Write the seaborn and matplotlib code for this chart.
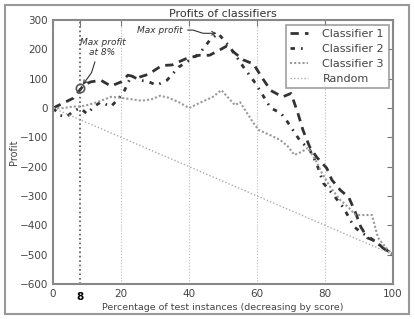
import matplotlib
matplotlib.use("Agg")
import matplotlib.pyplot as plt
import seaborn as sns
from matplotlib.patches import Rectangle

# values
c1_x = [0, 3, 6, 9, 11, 14, 17, 20, 22, 25, 28, 30, 32, 35, 39, 43, 46, 49, 51, 53,
        56, 59, 61, 64, 67.5, 70, 72, 73.5, 75.5, 77.5, 80.5, 82, 84.5, 87, 89, 90.5,
        92.5, 95, 97, 100]
c1_y = [0, 17, 34, 78, 89, 95, 75, 89, 112, 104, 115, 130, 145, 147, 168, 180, 180, 198, 211, 192,
        164, 150, 112, 60, 38, 50, -17, -75, -133, -167, -205, -245, -280, -305, -358, -405,
        -443, -455, -477, -500]

c2_x = [0, 2, 4, 6, 8, 10, 12, 14, 17, 19.5, 21, 22, 23, 25.5, 28, 30.5, 33.5, 37, 41, 43,
        46, 48.5, 52, 56, 59.5, 62, 64, 67, 69, 72.5, 75.5, 77.5, 78.5, 79.5, 82.5, 85.5,
        88.5, 91, 93, 96, 100]
c2_y = [0, -25, -30, -10, 0, -20, 5, 20, 5, 35, 60, 85, 110, 95, 90, 78, 95, 140, 170, 185,
        230, 255, 208, 140, 85, 38, 0, -17, -48, -109, -143, -188, -222, -256, -297, -341,
        -405, -427, -440, -467, -500]

c3_x = [0, 3, 6, 8, 10, 13, 17, 20, 23, 26, 29, 31.5, 34, 37, 40, 43, 47, 49.5, 53.5, 55,
        56.5, 59, 60.5, 63.8, 66.8, 69, 71, 73, 75, 77.5, 79, 81.5, 84.5, 87, 89, 91, 93.8,
        95.6, 98, 100]
c3_y = [0, 0, 5, 5, 10, 20, 38, 35, 30, 25, 30, 42, 35, 20, 0, 17, 38, 61, 10, 20,
        -7, -52, -75, -92, -109, -130, -160, -150, -136, -184, -220, -269, -314, -340, -365, -365, -365,
        -443, -477, -500]

rand_x = [0, 100]
rand_y = [0, -500]

max8_x, max8_y = 8, 68
maxall_x, maxall_y = 48.5, 255

sns.set_style("white")
plt.rcParams["font.family"] = ["DejaVu Sans"]
plt.rcParams["xtick.direction"] = "in"
plt.rcParams["ytick.direction"] = "in"

fig = plt.figure(figsize=(4.15, 3.19), dpi=100)
ax = fig.add_axes([0.128, 0.110, 0.819, 0.827])

dark = "#333333"
sns.lineplot(x=c1_x, y=c1_y, ax=ax, color=dark, lw=2.0, label="Classifier 1",
             linestyle=(0, (3, 2.2)))
sns.lineplot(x=c2_x, y=c2_y, ax=ax, color=dark, lw=2.0, label="Classifier 2",
             linestyle=(0, (1.6, 2.2, 0.6, 2.2)))
sns.lineplot(x=c3_x, y=c3_y, ax=ax, color="#999999", lw=1.5, label="Classifier 3",
             linestyle=(0, (1, 1)))
sns.lineplot(x=rand_x, y=rand_y, ax=ax, color="#aaaaaa", lw=1.0, label="Random",
             linestyle=(0, (1, 1.5)))

for xv in [20, 40, 60, 80]:
    ax.axvline(xv, color="#bbbbbb", lw=0.8, ls=":", zorder=0)
ax.axvline(8, color="#555555", lw=1.2, ls=":", zorder=0)

ax.plot([max8_x], [max8_y], marker="o", ms=6, mfc="none", mec="#555555", mew=1.2)

ax.annotate("Max profit\nat 8%", xy=(max8_x, max8_y), xytext=(14.5, 206),
            ha="center", va="center", fontsize=6.5, style="italic", color=dark,
            arrowprops=dict(arrowstyle="->", color=dark, lw=0.8, relpos=(0.4, 0),
                            shrinkA=1, shrinkB=3,
                            connectionstyle="arc,angleA=-124,armA=5,angleB=54,armB=19,rad=0"))
ax.annotate("Max profit", xy=(maxall_x, maxall_y), xytext=(38.2, 266),
            ha="right", va="center", fontsize=6.5, style="italic", color=dark,
            arrowprops=dict(arrowstyle="->", color=dark, lw=0.8, relpos=(1, 0.5),
                            shrinkA=1, shrinkB=1,
                            connectionstyle="arc,angleA=0,armA=10,angleB=180,armB=15,rad=0"))

ax.set_xlim(0, 100)
ax.set_ylim(-600, 300)
ax.set_xticks([0, 8, 20, 40, 60, 80, 100])
ax.set_yticks(range(-600, 301, 100))
ax.tick_params(axis="both", which="both", length=4, width=0.8, color="#777777",
               labelsize=7.5, labelcolor="#444444", top=True, right=True)
for lab in ax.get_xticklabels():
    if lab.get_text() == "8":
        lab.set_fontweight("bold")
        lab.set_color("black")
        lab.set_y(-0.012)

for sp in ax.spines.values():
    sp.set_color("#888888")
    sp.set_linewidth(1.5)

ax.set_title("Profits of classifiers", fontsize=8, color=dark, pad=2)
ax.set_xlabel("Percentage of test instances (decreasing by score)", fontsize=6.8,
              color="#444444")
ax.set_ylabel("Profit", fontsize=7, color="#444444")
ax.xaxis.set_label_coords(0.5, -0.072)
ax.yaxis.set_label_coords(-0.1, 0.5)

leg = ax.legend(loc="upper right", fontsize=8, fancybox=False, frameon=True,
                handlelength=1.6, handletextpad=1.3, borderaxespad=0.4,
                labelspacing=0.45)
leg.get_frame().set_edgecolor("#888888")
leg.get_frame().set_linewidth(1.2)
for t in leg.get_texts():
    t.set_color("#444444")

fig.patches.append(Rectangle((5 / 415, 5 / 319), 404 / 415, 309 / 319,
                             transform=fig.transFigure, fill=False,
                             edgecolor="#999999", lw=1.5))

fig.savefig("out.png", dpi=100)
